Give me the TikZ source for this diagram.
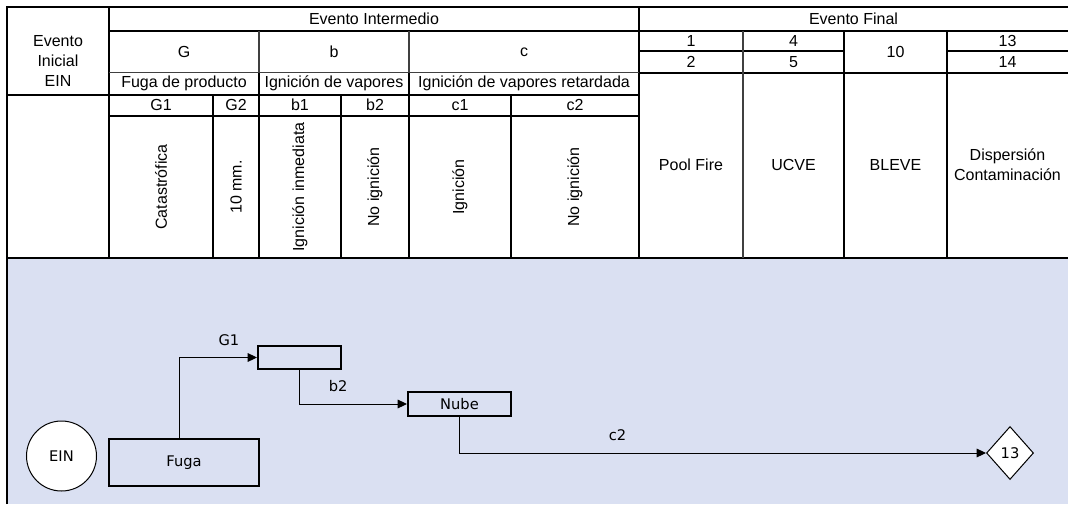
\documentclass[tikz,border=0pt]{standalone}
\usepackage{fontspec}
\setmainfont{Liberation Sans}
\newfontfamily\diagfont{DejaVu Sans}
\usetikzlibrary{shapes.geometric, arrows.meta}
\definecolor{paneblue}{RGB}{218,224,242}
\tikzset{
  % The 'grid-rule' style is the heavy black line of the table
  grid-rule/.style={draw=black, line width=1.5pt},
  % The 'grid-hair' style is for the lighter separators
  grid-hair/.style={draw=black!75, line width=0.8pt},
  % The 'cell-text' style is for the table texts
  cell-text/.style={font=\fontsize{12}{15}\selectfont, anchor=center, align=center, text=black, inner sep=0pt},
  % The 'vert-text' style turns a cell text upright
  vert-text/.style={cell-text, rotate=90},
  % The 'event-box' style is for the boxes of the event tree
  event-box/.style={draw=black, line width=1.5pt, fill=paneblue, font=\diagfont\fontsize{11}{13}\selectfont, inner sep=0pt},
  % The 'start-circle' style is for the initial event
  start-circle/.style={draw=black, line width=0.75pt, fill=white, shape=circle, minimum size=52.5pt, font=\diagfont\fontsize{11}{13}\selectfont, inner sep=0pt},
  % The 'end-diamond' style is for the final event
  end-diamond/.style={draw=black, line width=0.75pt, fill=white, shape=diamond, minimum width=35.25pt, minimum height=39.75pt, font=\diagfont\fontsize{11}{13}\selectfont, inner sep=0pt},
  % The 'flow-arrow' style is for the branches of the tree
  flow-arrow/.style={draw=black, line width=0.75pt, -{Triangle[length=7pt, width=6.5pt]}},
  % The 'branch-label' style is for the branch names
  branch-label/.style={font=\diagfont\fontsize{11}{13}\selectfont, inner sep=0pt, above=8.5pt}
}

\begin{document}
\begin{tikzpicture}[x=0.75pt, y=-0.75pt]
  \useasboundingbox (0,0) rectangle (1068,504);

  % Blue panel under the table
  \fill[paneblue] (7,258) rectangle (1068,504);

  % Table grid
  \draw[grid-rule] (7,504) -- (7,7) -- (1068,7);
  \draw[grid-rule] (7,258) -- (1068,258);
  \draw[grid-rule] (109,7) -- (109,258) (639,7) -- (639,258);
  \draw[grid-rule] (109,31) -- (1068,31);
  \draw[grid-hair] (109,72.5) -- (639,72.5);
  \draw[grid-rule] (639,72.5) -- (1068,72.5);
  \draw[grid-rule] (7,94.5) -- (639,94.5) (109,116) -- (639,116);
  \draw[grid-rule] (639,51) -- (844,51) (947,51) -- (1068,51);
  \draw[grid-hair] (259,31) -- (259,72.5) (409,31) -- (409,72.5);
  \draw[grid-rule] (259,72.5) -- (259,258) (409,72.5) -- (409,258);
  \draw[grid-rule] (213,94.5) -- (213,258) (341,94.5) -- (341,258) (511,94.5) -- (511,258);
  \draw[grid-hair] (743,31) -- (743,258);
  \draw[grid-rule] (844,31) -- (844,258) (947,31) -- (947,258);

  % Header texts
  \node[cell-text] at (58,60.5) (head-inicial) {Evento\\Inicial\\EIN};
  \node[cell-text] at (374,19) (head-intermedio) {Evento Intermedio};
  \node[cell-text] at (853.5,19) (head-final) {Evento Final};

  % Event codes
  \node[cell-text] at (184,52) (code-g) {G};
  \node[cell-text] at (334,52) (code-b) {b};
  \node[cell-text] at (524,52) (code-c) {c};
  \node[cell-text] at (691,41) (code-1) {1};
  \node[cell-text] at (691,62) (code-2) {2};
  \node[cell-text] at (793.5,41) (code-4) {4};
  \node[cell-text] at (793.5,62) (code-5) {5};
  \node[cell-text] at (895.5,52) (code-10) {10};
  \node[cell-text] at (1007.5,41) (code-13) {13};
  \node[cell-text] at (1007.5,62) (code-14) {14};

  % Event names
  \node[cell-text] at (184,83.5) (name-g) {Fuga de producto};
  \node[cell-text] at (334,83.5) (name-b) {Ignición de vapores};
  \node[cell-text] at (524,83.5) (name-c) {Ignición de vapores retardada};

  % Branch codes
  \node[cell-text] at (161,105) (branch-g1) {G1};
  \node[cell-text] at (236,105) (branch-g2) {G2};
  \node[cell-text] at (300,105) (branch-b1) {b1};
  \node[cell-text] at (375,105) (branch-b2) {b2};
  \node[cell-text] at (460,105) (branch-c1) {c1};
  \node[cell-text] at (575,105) (branch-c2) {c2};

  % Branch names, set upright
  \node[vert-text] at (161,187) (desc-g1) {Catastrófica};
  \node[vert-text] at (236,187) (desc-g2) {10 mm.};
  \node[vert-text] at (300,187) (desc-b1) {Ignición inmediata};
  \node[vert-text] at (375,187) (desc-b2) {No ignición};
  \node[vert-text] at (460,187) (desc-c1) {Ignición};
  \node[vert-text] at (575,187) (desc-c2) {No ignición};

  % Final events
  \node[cell-text] at (691,165) (final-pool) {Pool Fire};
  \node[cell-text] at (793.5,165) (final-ucve) {UCVE};
  \node[cell-text] at (895.5,165) (final-bleve) {BLEVE};
  \node[cell-text] at (1007.5,165) (final-disp) {Dispersión\\Contaminación};

  % Event tree
  \node[start-circle] at (61.5,456) (ein) {EIN};
  \node[event-box, minimum width=112.5pt, minimum height=35.25pt] at (184,462.5) (fuga-box) {Fuga};
  \node[event-box, minimum width=62.25pt, minimum height=17.25pt] at (299.5,357.5) (ignition-box) {};
  \node[event-box, minimum width=77.25pt, minimum height=18pt] at (459.5,404) (nube-box) {Nube};
  \node[end-diamond] at (1010,453) (end-13) {13};

  % Branches between the events
  \draw[flow-arrow] ([xshift=-3.75pt]fuga-box.north) |- node[branch-label, pos=0.82] (label-g1) {G1} (ignition-box.west);
  \draw[flow-arrow] (ignition-box.south) |- node[branch-label, pos=0.68] (label-b2) {b2} (nube-box.west);
  \draw[flow-arrow] (nube-box.south) |- node[branch-label, pos=0.65] (label-c2) {c2} (end-13.west);

\end{tikzpicture}
\end{document}
